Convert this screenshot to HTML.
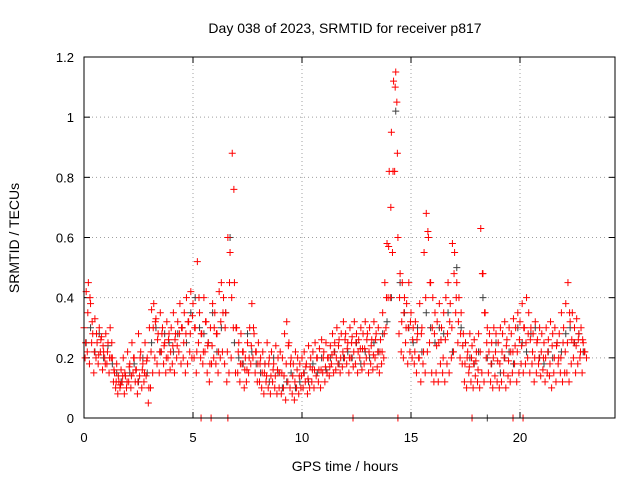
<!DOCTYPE html>
<html><head><meta charset="utf-8"><style>
body{margin:0;background:#fff;}
svg{display:block;font-family:"Liberation Sans",sans-serif;}
</style></head><body>
<svg id="chart" width="640" height="480" viewBox="0 0 640 480">
<rect width="640" height="480" fill="#fff"/>
<text x="345" y="33" font-size="14" text-anchor="middle">Day 038 of 2023, SRMTID for receiver p817</text>
<text x="345" y="471" font-size="14" text-anchor="middle">GPS time / hours</text>
<text transform="translate(19,238) rotate(-90)" font-size="14" text-anchor="middle">SRMTID / TECUs</text>
<g id="grid"></g><g id="ticks"></g><g id="marks"></g>
<rect x="84" y="57" width="531" height="361" fill="none" stroke="#000" stroke-width="1"/>
</svg>
<script>
const xTicks=[0,5,10,15,20];
const yTicks=[0,0.2,0.4,0.6,0.8,1,1.2];
const yTickLabels=["0","0.2","0.4","0.6","0.8","1","1.2"];
const redUpper=[.30,.42,.45,.38,.28,.33,.25,.30,.27,.22,.28,.25,.30,.20,.15,.18,.12,.16,.20,.14,.22,.18,.25,.20,.16,.28,.22,.18,.25,.20,.30,.36,.38,.33,.28,.35,.30,.25,.32,.28,.30,.35,.28,.32,.38,.30,.35,.40,.32,.42,.38,.30,.52,.35,.28,.40,.32,.25,.30,.38,.35,.28,.42,.45,.40,.35,.60,.55,.88,.45,.30,.25,.28,.22,.20,.25,.30,.38,.28,.22,.25,.20,.22,.18,.25,.20,.22,.18,.24,.20,.22,.20,.28,.32,.25,.20,.18,.22,.20,.18,.20,.22,.18,.24,.20,.22,.25,.20,.23,.26,.22,.25,.20,.24,.28,.25,.30,.26,.28,.32,.28,.25,.30,.27,.32,.28,.26,.30,.28,.32,.28,.30,.26,.32,.28,.30,.26,.35,.45,.58,.82,.95,1.12,1.15,.60,.48,.45,.40,.38,.45,.35,.30,.32,.28,.38,.30,.55,.68,.60,.45,.40,.35,.32,.38,.30,.35,.40,.45,.38,.58,.55,.45,.40,.35,.28,.25,.22,.28,.24,.26,.22,.28,.63,.48,.35,.30,.28,.25,.30,.28,.25,.30,.28,.32,.26,.30,.28,.33,.30,.35,.32,.38,.30,.40,.35,.30,.28,.32,.26,.30,.28,.25,.30,.26,.32,.28,.30,.25,.28,.35,.30,.38,.45,.32,.35,.30,.33,.28,.30,.25];
const redLower=[.20,.22,.18,.25,.15,.20,.18,.22,.16,.20,.18,.15,.20,.12,.10,.08,.10,.12,.08,.10,.12,.10,.15,.12,.08,.14,.10,.12,.14,.05,.10,.15,.20,.18,.15,.22,.18,.15,.20,.16,.18,.15,.20,.22,.18,.20,.15,.18,.22,.20,.20,.15,.25,.20,.18,.22,.15,.12,.18,.20,.18,.15,.20,.22,.18,.12,.15,.20,.30,.15,.15,.12,.18,.10,.12,.15,.18,.20,.15,.12,.12,.10,.08,.12,.10,.08,.12,.10,.08,.10,.08,.10,.06,.12,.10,.08,.06,.10,.08,.10,.10,.12,.08,.10,.12,.10,.14,.12,.10,.15,.12,.15,.14,.18,.15,.16,.18,.15,.17,.20,.18,.15,.20,.17,.18,.15,.20,.16,.18,.20,.15,.18,.16,.20,.17,.15,.18,.20,.30,.40,.40,.55,.82,1.05,.28,.22,.20,.25,.18,.22,.20,.18,.15,.20,.12,.18,.15,.22,.25,.15,.12,.15,.12,.18,.15,.12,.18,.15,.20,.22,.35,.25,.20,.18,.12,.10,.15,.12,.10,.14,.12,.10,.15,.12,.20,.15,.12,.10,.14,.12,.10,.12,.15,.10,.14,.12,.15,.18,.12,.15,.18,.15,.18,.20,.15,.18,.12,.15,.18,.14,.16,.12,.15,.14,.10,.15,.12,.18,.15,.12,.15,.15,.12,.18,.20,.15,.18,.20,.15,.22,.20];
const redMid=[.25,.35,.40,.32,.22,.28,.21,.26,.24,.18,.22,.20,.25,.16,.12,.14,.11,.14,.15,.12,.17,.14,.20,.16,.12,.20,.16,.15,.19,.10,.22,.30,.32,.26,.22,.28,.24,.20,.26,.22,.24,.26,.24,.28,.30,.25,.28,.32,.28,.34,.30,.22,.40,.28,.22,.32,.24,.18,.24,.30,.28,.22,.32,.35,.30,.22,.45,.40,.76,.30,.22,.18,.22,.16,.16,.20,.24,.30,.22,.18,.18,.15,.15,.14,.18,.14,.16,.14,.16,.15,.15,.14,.18,.24,.18,.14,.12,.16,.14,.14,.15,.17,.13,.17,.16,.16,.20,.16,.16,.20,.17,.20,.17,.21,.22,.20,.24,.20,.22,.26,.23,.20,.25,.22,.25,.22,.23,.23,.23,.26,.22,.24,.21,.26,.22,.22,.22,.28,.40,.57,.70,.82,1.10,.88,.40,.32,.35,.30,.30,.32,.26,.22,.26,.20,.28,.22,.40,.62,.45,.30,.28,.24,.25,.26,.20,.26,.28,.32,.30,.48,.40,.32,.28,.24,.18,.20,.17,.20,.18,.19,.16,.22,.48,.35,.25,.22,.18,.20,.22,.19,.18,.22,.20,.24,.19,.22,.22,.24,.22,.26,.24,.30,.25,.28,.26,.22,.20,.25,.20,.22,.20,.20,.22,.18,.24,.20,.24,.20,.20,.25,.22,.25,.35,.26,.25,.24,.26,.22,.26,.22];
const grayVals=[.25,.30,.22,.28,.20,.24,.18,.15,.12,.14,.15,.18,.12,.20,.15,.25,.30,.22,.28,.25,.22,.28,.30,.25,.35,.40,.30,.28,.25,.35,.22,.30,.35,.60,.25,.20,.18,.28,.22,.18,.15,.18,.12,.20,.15,.10,.12,.15,.10,.12,.15,.12,.18,.15,.20,.16,.20,.22,.18,.20,.22,.20,.25,.18,.22,.20,.25,.22,.28,.32,.40,1.02,.45,.35,.30,.25,.30,.22,.35,.30,.25,.30,.28,.35,.22,.50,.30,.25,.20,.18,.22,.40,.20,.18,.25,.15,.20,.22,.18,.30,.25,.22,.28,.30,.20,.18,.22,.20,.25,.22,.28,.30,.25,.28,.22];
const redZeroTimes=[5.37,5.83,6.6,12.34,14.4,17.8,19.68,20.14];
const grayZeroTimes=[18.5];
const redStep=0.1, grayStep=0.2;

const X=t=>84+t*21.8;
const Y=v=>418-v*(361/1.2);
const NS="http://www.w3.org/2000/svg";
const grid=document.getElementById('grid'),ticks=document.getElementById('ticks'),marks=document.getElementById('marks');
function mk(tag,attrs,parent){const e=document.createElementNS(NS,tag);for(const k in attrs)e.setAttribute(k,attrs[k]);parent.appendChild(e);return e;}
xTicks.forEach(t=>{
 const g=mk('line',{x1:X(t),x2:X(t),y1:57,y2:418,stroke:'#a0a0a0','stroke-dasharray':'1,3'},grid);
 
 
 const l=mk('text',{x:X(t),y:442,'font-size':13,'text-anchor':'middle'},ticks);l.textContent=t;
 
 
 mk('line',{x1:X(t),x2:X(t),y1:418,y2:412,stroke:'#000'},ticks);
 mk('line',{x1:X(t),x2:X(t),y1:57,y2:63,stroke:'#000'},ticks);
});
yTicks.forEach((v,i)=>{
 const g=mk('line',{x1:84,x2:615,y1:Y(v),y2:Y(v),stroke:'#a0a0a0','stroke-dasharray':'1,3'},grid);
 
 
 const l=mk('text',{x:74,y:Y(v)+5,'font-size':13,'text-anchor':'end'},ticks);l.textContent=yTickLabels[i];
 
 
 mk('line',{x1:84,x2:90,y1:Y(v),y2:Y(v),stroke:'#000'},ticks);
 mk('line',{x1:615,x2:609,y1:Y(v),y2:Y(v),stroke:'#000'},ticks);
});
function plus(t,v,color,name){
 const x=X(t),y=Y(v);
 const p=mk('path',{d:`M${x-3.5},${y}h7M${x},${y-3.5}v7`,stroke:color,'stroke-width':1,fill:'none'},marks);
 
 
}
grayVals.forEach((v,i)=>plus(i*grayStep+0.1,v,'#404040','gray-point'));
grayZeroTimes.forEach(t=>plus(t,0,'#404040','gray-zero-point'));
redUpper.forEach((v,i)=>plus(i*redStep,v,'#ff0000','red-point'));
redLower.forEach((v,i)=>plus(i*redStep+0.05,v,'#ff0000','red-point'));
redMid.forEach((v,i)=>plus(i*redStep+0.075,v,'#ff0000','red-point'));
redZeroTimes.forEach(t=>plus(t,0,'#ff0000','red-zero-point'));
</script>
</body></html>
